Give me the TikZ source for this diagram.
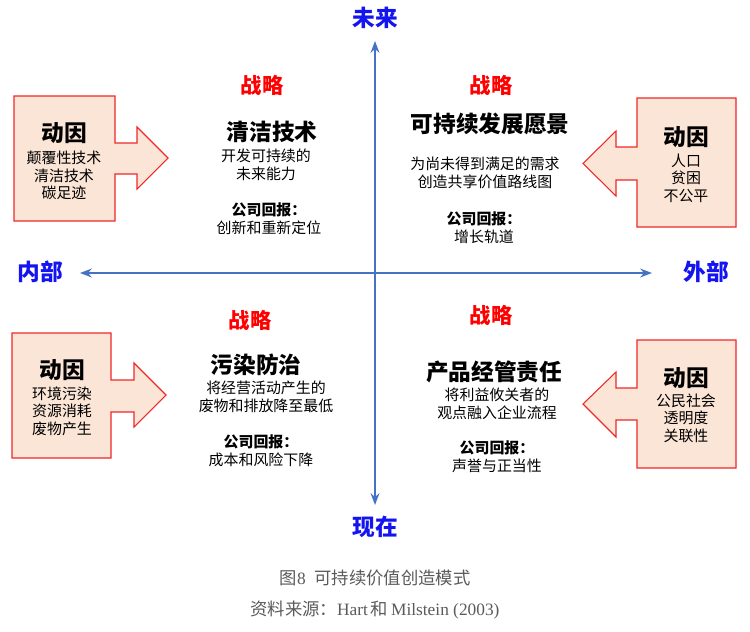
\documentclass[tikz,border=0pt]{standalone}
\usepackage{fontspec}
\setmainfont{Liberation Serif}
\newfontfamily\cjk{Noto Sans CJK SC}
\usepackage{tikz}
\usetikzlibrary{
  arrows.meta,
  positioning
}
\definecolor{axisblue}{RGB}{68,114,196}
\definecolor{labelblue}{RGB}{20,20,240}
\definecolor{stratred}{RGB}{255,0,0}
\definecolor{drivefill}{RGB}{251,229,214}
\definecolor{driveline}{RGB}{240,40,40}
\definecolor{captiongray}{RGB}{90,90,90}

\begin{document}
\begin{tikzpicture}[
    x=0.75pt, y=-0.75pt,
    font=\cjk,
    >=Stealth,
    axisline/.style={<->, line width=1.3pt, color=axisblue},
    axislabel/.style={font=\cjk\bfseries\fontsize{17}{19}\selectfont, text=labelblue},
    drivebox/.style={draw=driveline, fill=drivefill, line width=0.8pt},
    drivehead/.style={font=\cjk\bfseries\fontsize{17}{20}\selectfont},
    drivetext/.style={align=center, font=\cjk\fontsize{11.2}{13.2}\selectfont},
    stratlabel/.style={font=\cjk\bfseries\fontsize{16}{18}\selectfont, text=stratred},
    strattitle/.style={font=\cjk\bfseries\fontsize{17}{20}\selectfont},
    stratdesc/.style={align=center, font=\cjk\fontsize{11.2}{13.5}\selectfont},
    caption/.style={text=captiongray, font=\fontsize{13}{15}\selectfont},
]
\useasboundingbox (0,0) rectangle (750,632);

% === Axes ===
\coordinate (axtop) at (375,41);
\coordinate (axbot) at (375,505);
\coordinate (axleft) at (80,273);
\coordinate (axright) at (652,273);
\draw[axisline] (axbot) -- (axtop);
\draw[axisline] (axleft) -- (axright);

\node[axislabel] (future) at (375,18) {未来};
\node[axislabel] (present) at (375,527) {现在};
\node[axislabel] (internal) at (40,272) {内部};
\node[axislabel] (external) at (706,272) {外部};

% === Drivers (callout arrows) ===
\draw[drivebox] (14,96) -- (115,96) -- (115,143) -- (137,143) -- (137,127) -- (168,158)
    -- (137,189) -- (137,174) -- (115,174) -- (115,221) -- (14,221) -- cycle;
\draw[drivebox] (736,98) -- (637,98) -- (637,147) -- (616,147) -- (616,131) -- (583,163.5)
    -- (616,196) -- (616,180) -- (637,180) -- (637,227) -- (736,227) -- cycle;
\draw[drivebox] (12,333) -- (111,333) -- (111,380) -- (134,380) -- (134,363) -- (166,395)
    -- (134,427) -- (134,412) -- (111,412) -- (111,458) -- (12,458) -- cycle;
\draw[drivebox] (736,340) -- (637,340) -- (637,388) -- (616,388) -- (616,372) -- (583,404)
    -- (616,437) -- (616,420) -- (637,420) -- (637,468) -- (736,468) -- cycle;

\node[drivehead] (drvtl) at (64,133) {动因};
\node[drivetext] (drvtltext) at (64,175.5) {颠覆性技术\\清洁技术\\碳足迹};
\node[drivehead] (drvtr) at (686,137) {动因};
\node[drivetext] (drvtrtext) at (686,178) {人口\\贫困\\不公平};
\node[drivehead] (drvbl) at (62,370) {动因};
\node[drivetext] (drvbltext) at (62,411) {环境污染\\资源消耗\\废物产生};
\node[drivehead] (drvbr) at (686,378) {动因};
\node[drivetext] (drvbrtext) at (686,418) {公民社会\\透明度\\关联性};

% === Strategies ===
\node[stratlabel] (strattl) at (262,85) {战略};
\node[strattitle] (cleantech) at (272,132) {清洁技术};
\node[stratdesc] (cleandesc) at (266,164.5) {开发可持续的\\未来能力};
\node[stratdesc] (cleanret) at (269,218.5) {\bfseries 公司回报：\\创新和重新定位};

\node[stratlabel] (strattr) at (491,85) {战略};
\node[strattitle] (vision) at (490,124) {可持续发展愿景};
\node[stratdesc] (visiondesc) at (485,172.5) {为尚未得到满足的需求\\创造共享价值路线图};
\node[stratdesc] (visionret) at (484,227.5) {\bfseries 公司回报：\\增长轨道};

\node[stratlabel] (stratbl) at (250,320) {战略};
\node[strattitle] (pollution) at (256,365) {污染防治};
\node[stratdesc] (polldesc) at (266,397) {将经营活动产生的\\废物和排放降至最低};
\node[stratdesc] (pollret) at (261,451) {\bfseries 公司回报：\\成本和风险下降};

\node[stratlabel] (stratbr) at (491,315) {战略};
\node[strattitle] (steward) at (494,372) {产品经管责任};
\node[stratdesc] (stewdesc) at (497,403.5) {将利益攸关者的\\观点融入企业流程};
\node[stratdesc] (stewret) at (497,457) {\bfseries 公司回报：\\声誉与正当性};

% === Caption ===
\node[caption] (figtitle) at (375,578) {{\cjk 图}8\ \ {\cjk 可持续价值创造模式}};
\node[caption] (figsource) at (375,610) {{\cjk 资料来源：}Hart\,{\cjk 和}\,Milstein (2003)};

\end{tikzpicture}
\end{document}
